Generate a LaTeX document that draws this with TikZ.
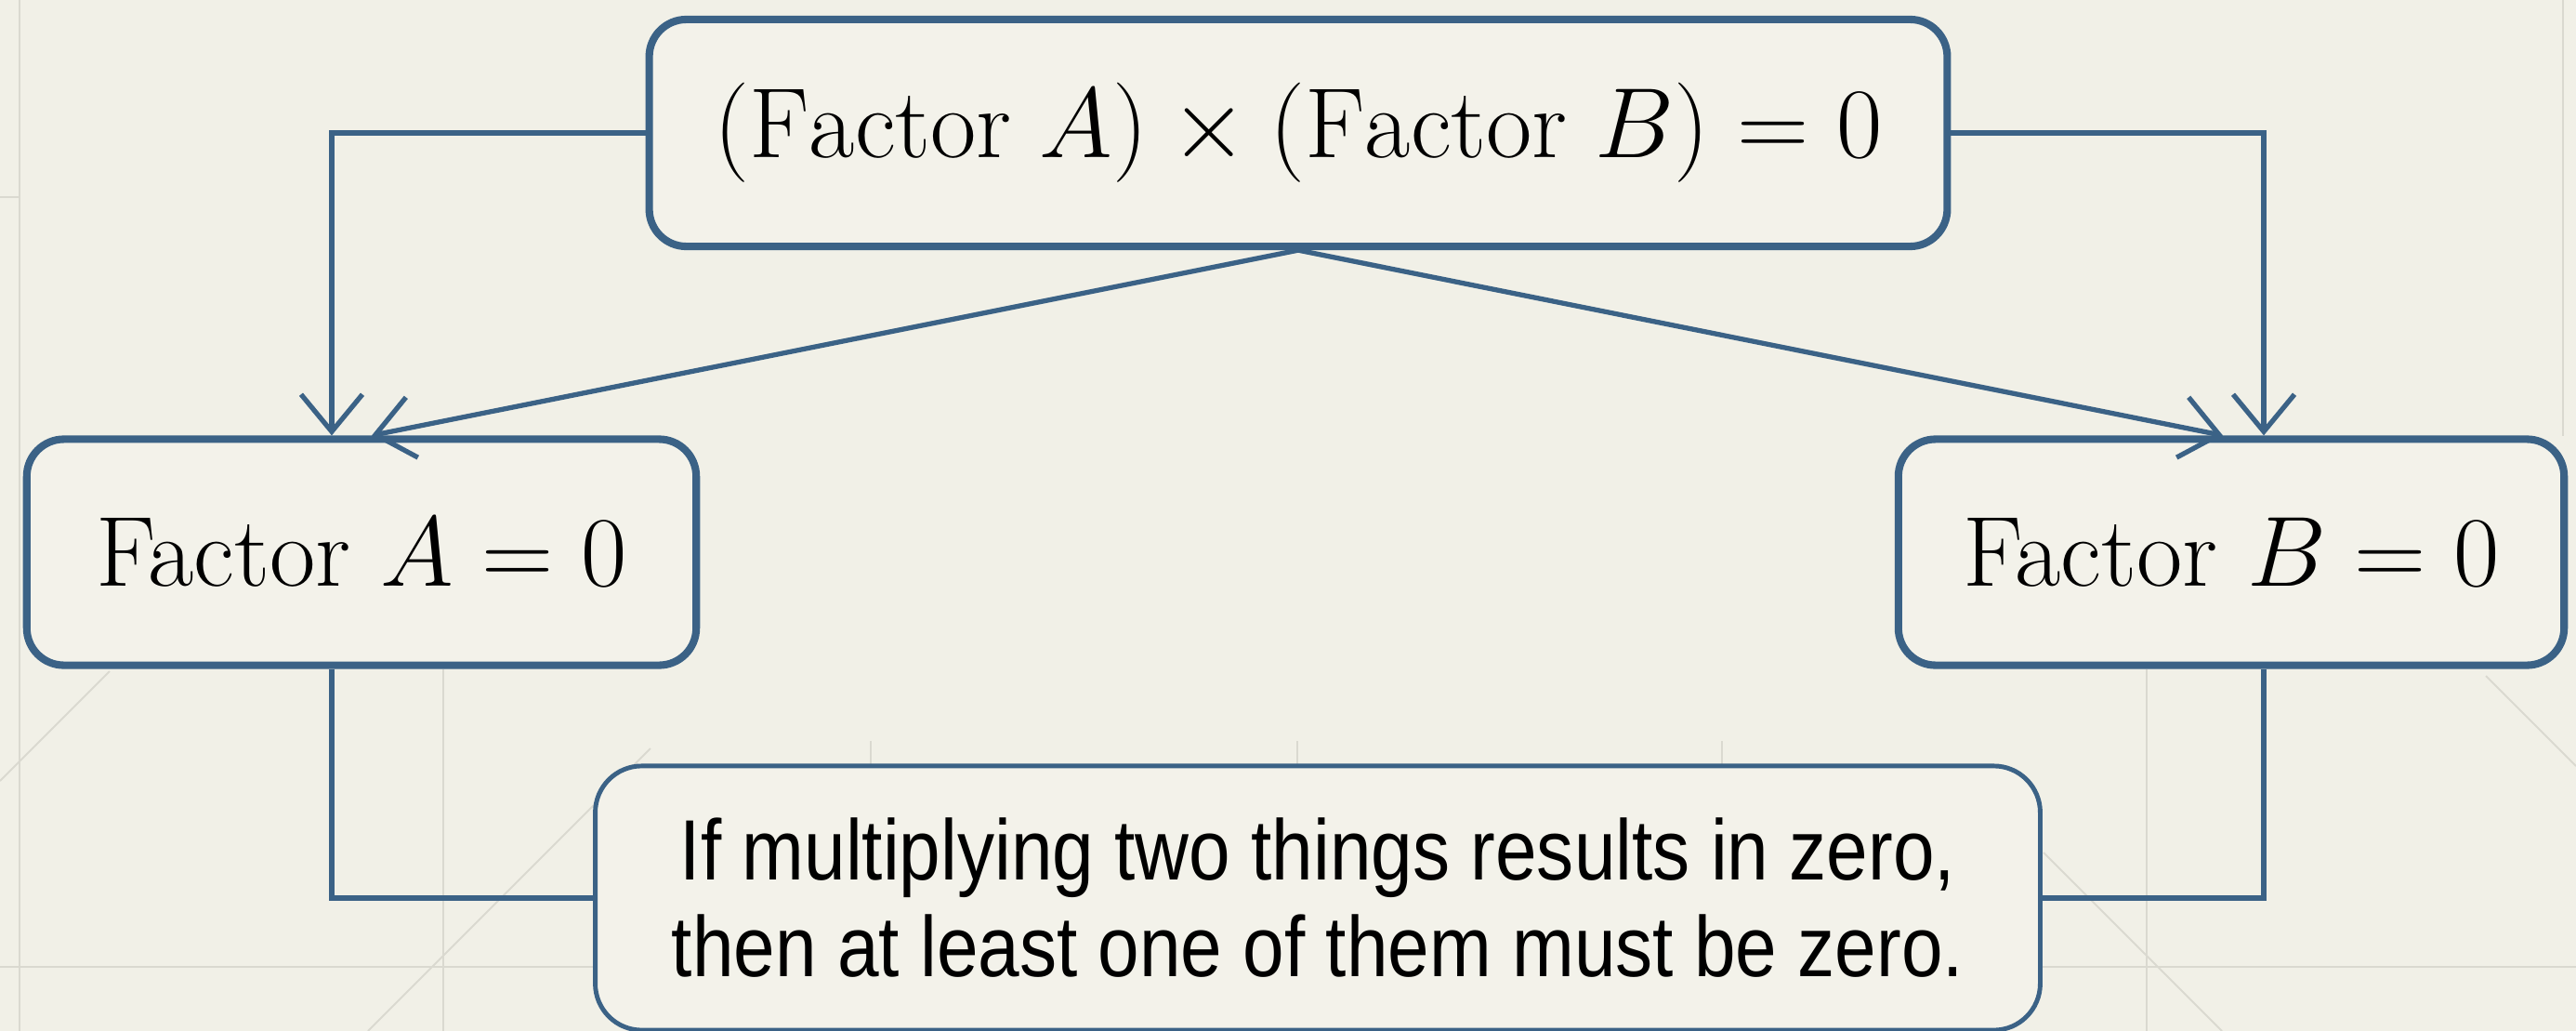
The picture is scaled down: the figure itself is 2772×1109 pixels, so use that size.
\RequirePackage{fix-cm}
\documentclass[tikz,border=0pt]{standalone}
\usepackage{fontspec}
\newfontfamily\condsans[FakeStretch=0.87]{Liberation Sans}
\usetikzlibrary{arrows.meta,calc}
\definecolor{bg}{HTML}{F1F0E7}
\definecolor{boxfill}{HTML}{F3F2EA}
\definecolor{edge}{HTML}{3B6286}
\definecolor{gridc}{HTML}{DAD9D0}
\begin{document}
\begin{tikzpicture}[x=0.01cm,y=-0.01cm,
  mainbox/.style={draw=edge, fill=boxfill, line width=2.3pt, rounded corners=0.4cm, inner sep=0pt,
    font=\fontsize{30.5}{36}\selectfont},
  notebox/.style={draw=edge, fill=boxfill, line width=1.4pt, rounded corners=0.5cm, inner sep=0pt,
    align=center, font=\condsans\fontsize{26.2}{29.6}\selectfont},
  conn/.style={draw=edge, line width=1.5pt},
  arr/.style={conn, -{Straight Barb[length=0.4cm,width=0.66cm]}},
  gridline/.style={draw=gridc, line width=0.55pt}]
\useasboundingbox (0,0) rectangle (2772,1109);
\fill[bg] (0,0) rectangle (2772,1109);
% faint background lines
\draw[gridline] (21,0) -- (21,1109);
\draw[gridline] (0,212) -- (21,212);
\draw[gridline] (477,720) -- (477,1109);
\draw[gridline] (2310,720) -- (2310,1109);
\draw[gridline] (2758,0) -- (2758,469);
\draw[gridline] (0,1040) -- (640,1040);
\draw[gridline] (2198,1040) -- (2772,1040);
\draw[gridline] (937,797) -- (937,824);
\draw[gridline] (1396,797) -- (1396,824);
\draw[gridline] (1853,797) -- (1853,824);
\draw[gridline] (0,840) -- (118,722);
\draw[gridline] (396,1109) -- (700,805);
\draw[gridline] (2199,917) -- (2391,1109);
\draw[gridline] (2675,727) -- (2772,824);
% boxes
\node[mainbox, minimum width=13.96cm, minimum height=2.44cm] (top) at (1397,143)
  {$(\mathrm{Factor}\;A)\times(\mathrm{Factor}\;B)=0$};
\node[mainbox, minimum width=7.20cm, minimum height=2.43cm] (L) at (389,594)
  {Factor $A=0$};
\node[mainbox, minimum width=7.16cm, minimum height=2.43cm] (R) at (2401,594)
  {Factor $B=0$};
\node[notebox, minimum width=15.54cm, minimum height=2.84cm] (B) at (1418,966)
  {If multiplying two things results in zero,\\then at least one of them must be zero.};
% connectors
\draw[arr] (top.west) -| ([xshift=-0.32cm]L.north);
\draw[arr] (top.east) -| ([xshift=0.35cm]R.north);
\draw[arr] (top.south) -- ([xshift=0.11cm]L.north);
\draw[arr] (top.south) -- ([xshift=-0.09cm]R.north);
\draw[conn] ([xshift=-0.32cm]L.south) |- (B.west);
\draw[conn] ([xshift=0.35cm]R.south) |- (B.east);
\end{tikzpicture}
\end{document}
